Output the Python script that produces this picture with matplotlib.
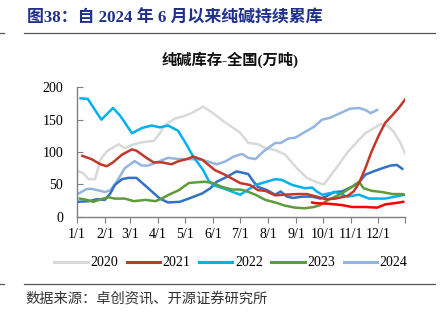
import matplotlib
matplotlib.use("Agg")
import matplotlib.pyplot as plt
from matplotlib.lines import Line2D

# Soda ash national inventory (10k tonnes), x = day of year
month_days = [0, 31, 59, 90, 120, 151, 181, 212, 243, 273, 304, 334]
month_labels = ["1/1", "2/1", "3/1", "4/1", "5/1", "6/1",
                "7/1", "8/1", "9/1", "10/1", "11/1", "12/1"]

days_2020 = [0, 7, 13, 20, 26, 33, 46, 53, 61, 72, 85, 92, 98, 109, 118, 127,
             140, 151, 163, 181, 190, 201, 209, 220, 231, 244, 255, 268, 274,
             285, 301, 320, 337, 344, 351, 359, 364]
inv_2020 = [71, 67, 58, 58, 88, 101, 112, 106, 111, 115, 117, 129, 142, 152,
            155, 160, 170, 160, 147, 130, 114, 112, 106, 103, 96, 75, 60, 52,
            50, 70, 101, 129, 143, 141, 132, 114, 98]

days_2021 = [6, 16, 26, 33, 40, 50, 61, 66, 77, 85, 94, 105, 111, 124, 129,
             139, 153, 164, 181, 192, 201, 209, 220, 231, 244, 255, 266, 276,
             287, 300, 307, 313, 320, 327, 335, 342, 350, 357, 364]
inv_2021 = [94, 89, 81, 78, 84, 96, 104, 102, 91, 84, 84, 81, 85, 90, 93, 88,
            72, 65, 52, 49, 41, 40, 33, 34, 35, 35, 31, 27, 28, 32, 39, 52,
            75, 101, 126, 145, 157, 168, 181]

days_2022 = [4, 12, 27, 40, 48, 61, 72, 83, 92, 101, 105, 112, 120, 129, 140,
             146, 151, 164, 181, 198, 220, 227, 239, 253, 261, 266, 272, 287,
             300, 313, 324, 342, 364]
inv_2022 = [183, 182, 150, 168, 156, 129, 137, 141, 138, 141, 138, 133, 115,
            93, 72, 56, 49, 43, 34, 49, 58, 57, 49, 44, 45, 39, 34, 38, 31,
            34, 28, 28, 34]

days_2023 = [3, 11, 18, 29, 35, 42, 53, 63, 76, 87, 94, 102, 113, 124, 131,
             142, 151, 161, 172, 181, 187, 198, 209, 220, 231, 242, 253, 263,
             270, 279, 294, 305, 313, 318, 327, 339, 350, 361, 364]
inv_2023 = [28, 26, 23, 28, 30, 28, 28, 24, 26, 24, 28, 34, 41, 52, 53, 54,
            52, 46, 42, 42, 40, 34, 26, 22, 17, 14, 13, 15, 18, 26, 36, 46,
            54, 44, 40, 38, 35, 35, 34]

days_2024 = [2, 11, 16, 26, 31, 37, 44, 53, 64, 72, 79, 92, 101, 113, 127,
             139, 155, 164, 174, 183, 190, 198, 207, 220, 226, 235, 242, 253,
             263, 272, 281, 292, 303, 313, 320, 326, 333]
inv_2024 = [36, 43, 43, 40, 38, 41, 54, 75, 86, 79, 79, 86, 91, 89, 89, 88,
            81, 85, 93, 97, 91, 89, 101, 114, 114, 121, 122, 131, 139, 150,
            153, 160, 167, 168, 165, 160, 165]

days_dark = [1, 13, 22, 31, 37, 42, 50, 57, 66, 79, 92, 101, 114, 124, 139,
             148, 155, 164, 177, 190, 196, 201, 211, 220, 226, 233, 240, 250,
             261, 270, 276, 285, 294, 305, 313, 320, 329, 339, 348, 355, 361]
inv_dark = [23, 24, 27, 26, 36, 49, 58, 60, 60, 44, 28, 22, 23, 28, 36, 44,
            54, 60, 70, 66, 54, 46, 41, 34, 39, 31, 29, 31, 31, 28, 31, 38,
            39, 46, 53, 65, 70, 75, 79, 80, 74]

days_bright = [261, 264, 279, 294, 305, 320, 333, 342, 353, 362]
inv_bright = [22, 21, 20, 18, 15, 15, 14, 19, 21, 23]

years = ["2020", "2021", "2022", "2023", "2024"]
colors = ["#D9D9D9", "#C0392B", "#00B0F0", "#5E9B3A", "#93B5E0"]

plt.rcParams["font.family"] = ["Liberation Serif", "Noto Sans CJK SC"]

fig = plt.figure(figsize=(4.45, 3.28), dpi=100)
ax = fig.add_axes([77 / 445, 1 - 216.7 / 328, 328 / 445, 129.4 / 328])

lw = 1.8
ax.plot(days_2020, inv_2020, color=colors[0], lw=lw)
ax.plot(days_2024, inv_2024, color=colors[4], lw=lw)
ax.plot(days_dark, inv_dark, color="#3272C6", lw=lw)
ax.plot(days_2022, inv_2022, color=colors[2], lw=lw)
ax.plot(days_2023, inv_2023, color=colors[3], lw=lw)
ax.plot(days_2021, inv_2021, color=colors[1], lw=lw)
ax.plot(days_bright, inv_bright, color="#FF0000", lw=lw)

ax.set_xlim(0, 364)
ax.set_ylim(0, 200)
ax.set_xticks(month_days + [364])
ax.set_xticklabels(month_labels + [""])
ax.set_yticks([0, 50, 100, 150, 200])
for s in ["top", "right"]:
    ax.spines[s].set_visible(False)
for s in ["left", "bottom"]:
    ax.spines[s].set_color("#7F7F7F")
    ax.spines[s].set_linewidth(1.0)
ax.tick_params(axis="y", direction="in", length=4, pad=10, color="#7F7F7F",
               labelsize=10)
ax.tick_params(axis="x", direction="out", length=4, pad=4, color="#7F7F7F",
               labelsize=10)

handles = [Line2D([], [], color=c, lw=2.2) for c in colors]
fig.legend(handles, years, loc="center", bbox_to_anchor=(231 / 445, 1 - 263 / 328),
           ncol=5, frameon=False, fontsize=10, handlelength=2.4,
           handletextpad=0.2, columnspacing=0.6)

fig.text(27 / 445, 1 - 18 / 328, "图38：自 2024 年 6 月以来纯碱持续累库",
         fontsize=12.2, fontweight="bold", color="#1F2F8C", va="center", ha="left")
fig.text(230 / 445, 1 - 60 / 328, "纯碱库存-全国(万吨)", fontsize=11,
         fontweight="bold", color="#111111", va="center", ha="center")
fig.text(25 / 445, 1 - 300 / 328, "数据来源：卓创资讯、开源证券研究所",
         fontsize=10.3, color="#333333", va="center", ha="left")

# separator rules
for y in [33, 284]:
    fig.add_artist(Line2D([24 / 445, 435 / 445], [1 - y / 328] * 2,
                          color="#555555", lw=0.9))
    fig.add_artist(Line2D([0, 4 / 445], [1 - y / 328] * 2,
                          color="#555555", lw=0.9))

fig.savefig("out.png", dpi=100)
